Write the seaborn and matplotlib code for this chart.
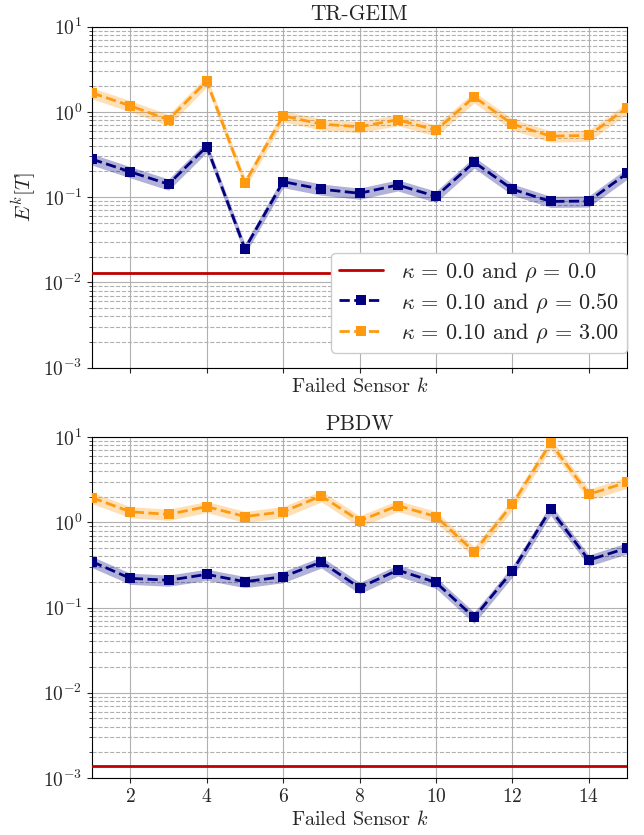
import matplotlib
matplotlib.use("Agg")
import matplotlib.pyplot as plt
import seaborn as sns
import numpy as np
import pandas as pd

# failed sensor index
sensors = np.arange(1, 16)

# TR-GEIM errors
geim_ref = 0.0128
geim_rho050 = [0.279, 0.198, 0.142, 0.392, 0.0248, 0.152, 0.124, 0.111, 0.139, 0.102,
               0.257, 0.124, 0.089, 0.090, 0.19]
geim_rho300 = [1.67, 1.18, 0.81, 2.3, 0.147, 0.90, 0.72, 0.67, 0.81, 0.61,
               1.50, 0.72, 0.52, 0.53, 1.12]

# PBDW errors
pbdw_ref = 0.00137
pbdw_rho050 = [0.345, 0.22, 0.209, 0.245, 0.201, 0.23, 0.342, 0.171, 0.275, 0.197,
               0.0765, 0.268, 1.42, 0.36, 0.50]
pbdw_rho300 = [1.95, 1.33, 1.24, 1.53, 1.17, 1.33, 2.04, 1.04, 1.57, 1.17,
               0.452, 1.63, 8.5, 2.13, 2.95]

# relative half-width of the uncertainty band
band_rel = 0.15

titles = ["TR-GEIM", "PBDW"]
labels = [r"$\kappa\,=\,0.0$ and $\rho\,=\,0.0$",
          r"$\kappa\,=\,0.10$ and $\rho\,=\,0.50$",
          r"$\kappa\,=\,0.10$ and $\rho\,=\,3.00$"]
colors = ["#C00000", "#000080", "#FF9A10"]

sns.set_style("ticks")
plt.rcParams["font.family"] = "serif"
plt.rcParams["font.serif"] = ["cmr10", "DejaVu Serif"]
plt.rcParams["mathtext.fontset"] = "cm"
plt.rcParams["axes.formatter.use_mathtext"] = True
plt.rcParams["axes.unicode_minus"] = False

fig, axes = plt.subplots(2, 1, figsize=(6.44, 8.35), dpi=100)
fig.subplots_adjust(left=0.143, right=0.9736, top=0.968, bottom=0.0683, hspace=0.204)

datasets = [(geim_ref, geim_rho050, geim_rho300), (pbdw_ref, pbdw_rho050, pbdw_rho300)]

for i, (ax, (ref, r050, r300)) in enumerate(zip(axes, datasets)):
    ax.axhline(ref, color=colors[0], lw=2, label=labels[0], zorder=3)
    for vals, lab, col in [(r050, labels[1], colors[1]), (r300, labels[2], colors[2])]:
        vals = np.array(vals)
        df = pd.DataFrame({"k": sensors, "E": vals})
        ax.fill_between(sensors, vals * (1 - band_rel), vals * (1 + band_rel),
                        color=col, alpha=0.3, lw=0, zorder=2)
        sns.lineplot(data=df, x="k", y="E", ax=ax, color=col, marker="s",
                     markersize=7, markeredgewidth=0, linestyle="--", lw=2,
                     label=lab, zorder=4, legend=False)

    ax.set_yscale("log")
    ax.set_ylim(1e-3, 1e1)
    ax.set_xlim(1, 15)
    ax.set_xticks(np.arange(2, 16, 2))
    ax.grid(True, which="major", color="#b0b0b0", lw=0.8)
    ax.grid(True, which="minor", axis="y", color="#b0b0b0", lw=0.8, ls="--")
    ax.set_axisbelow(True)
    ax.set_title(titles[i], fontsize=15.5, pad=5)
    ax.set_xlabel(r"Failed Sensor $k$", fontsize=14.5, labelpad=3)
    ax.set_ylabel("")
    ax.tick_params(axis="both", labelsize=14)
    ax.tick_params(axis="y", which="minor", length=2)
    for sp in ax.spines.values():
        sp.set_visible(True)
        sp.set_color("black")

axes[0].tick_params(axis="x", labelbottom=False)
axes[0].set_ylabel(r"$E^k[T]$", fontsize=15)
axes[0].legend(loc="lower right", bbox_to_anchor=(1.0, 0.044), borderaxespad=0,
               fontsize=16, framealpha=1, edgecolor="#cccccc", handlelength=2.0,
               handletextpad=0.8, labelspacing=0.3, borderpad=0.35)

fig.savefig("out.png", dpi=100)
